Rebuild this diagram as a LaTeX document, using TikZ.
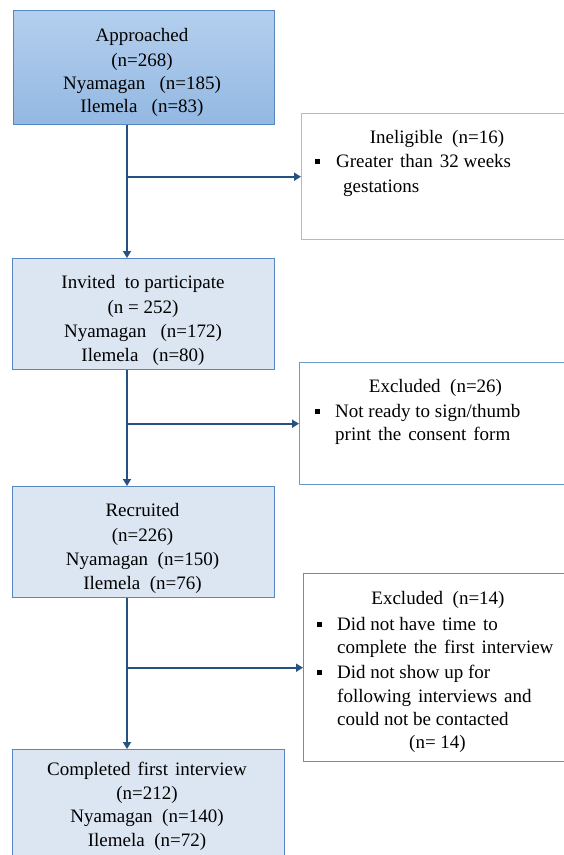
\documentclass[tikz,border=0pt]{standalone}
\usepackage{fontspec}
\setmainfont{Liberation Serif}
\usetikzlibrary{arrows.meta}
\definecolor{boxline}{HTML}{5886BE}
\definecolor{boxfill}{HTML}{DCE6F2}
\definecolor{topfillA}{HTML}{B4CFEE}
\definecolor{topfillB}{HTML}{93B8E2}
\definecolor{arrowc}{HTML}{26527F}
\definecolor{sideA}{HTML}{A8BED2}
\definecolor{sideB}{HTML}{6F9BC9}
\definecolor{sideC}{HTML}{5F90C6}
\newcommand{\wsp}{\hspace{7pt}}
\begin{document}
\begin{tikzpicture}[x=1pt,y=-1pt,
  lbox/.style={draw=boxline, line width=1.3pt, fill=boxfill, inner sep=0pt, anchor=north west},
  rbox/.style={line width=1.4pt, fill=white, inner sep=0pt, anchor=north west},
  txt/.style={font=\fontsize{19}{24}\selectfont, inner sep=0pt, anchor=base},
  ltxt/.style={txt, anchor=base west},
  bul/.style={fill=black, inner sep=0pt, minimum size=5pt},
  arr/.style={draw=arrowc, line width=1.9pt, -{Triangle[length=7pt,width=8pt]}}]
\useasboundingbox (0,0) rectangle (564,855);
\clip (0,0) rectangle (564,855);
\fill[white] (0,0) rectangle (564,855);

% left boxes
\node[lbox, top color=topfillA, bottom color=topfillB, minimum width=261pt, minimum height=114pt] (A) at (13,10) {};
\node[lbox, minimum width=262pt, minimum height=111pt] (B) at (12,258) {};
\node[lbox, minimum width=262pt, minimum height=111pt] (C) at (12,486) {};
\node[lbox, minimum width=272pt, minimum height=130pt] (D) at (12,749) {};

% right boxes
\node[rbox, draw=sideA, minimum width=280pt, minimum height=126pt] (I) at (301,113) {};
\node[rbox, draw=sideB, minimum width=280pt, minimum height=122pt] (E1) at (299,362) {};
\node[rbox, draw=sideC, minimum width=280pt, minimum height=188pt] (E2) at (303,573) {};

% trunk
\coordinate (tr) at (127,0);
\draw[arr] (tr |- A.south) -- (tr |- B.north);
\draw[arr] (tr |- B.south) -- (tr |- C.north);
\draw[arr] (tr |- C.south) -- (tr |- D.north);
\draw[arr] (tr |- I.west) -- (I.west);
\draw[arr] (tr |- E1.west) -- (E1.west);
\draw[arr] (tr |- E2.west) -- (E2.west);

% texts left
\node[txt] (a1) at (142,41) {Approached};
\node[txt] (a2) at (142,66) {(n=268)};
\node[txt] (a3) at (142,89) {Nyamagan\ \ \ (n=185)};
\node[txt] (a4) at (142,112) {Ilemela\ \ \ (n=83)};

\node[txt] (b1) at (143,288) {Invited\ \ to participate};
\node[txt] (b2) at (143,313) {(n = 252)};
\node[txt] (b3) at (143,337) {Nyamagan\ \ \ (n=172)};
\node[txt] (b4) at (143,361) {Ilemela\ \ \ (n=80)};

\node[txt] (c1) at (142.5,516) {Recruited};
\node[txt] (c2) at (142.5,541) {(n=226)};
\node[txt] (c3) at (142.5,565) {Nyamagan\ \ (n=150)};
\node[txt] (c4) at (142.5,589) {Ilemela\ \ (n=76)};

\node[txt] (d1) at (147,775) {Completed\wsp first\wsp interview};
\node[txt] (d2) at (147,799) {(n=212)};
\node[txt] (d3) at (147,822) {Nyamagan\ \ (n=140)};
\node[txt] (d4) at (147,846) {Ilemela\ \ (n=72)};

% texts right
\node[txt] (i1) at (437,143) {Ineligible\ \ (n=16)};
\node[bul] (ib1) at (317,161) {};
\node[ltxt] (i2) at (336,167) {Greater\wsp than\wsp 32 weeks};
\node[ltxt] (i3) at (343,192) {gestations};

\node[txt] (e1) at (435.5,392) {Excluded\ \ (n=26)};
\node[bul] (eb1) at (317,411) {};
\node[ltxt] (e2) at (335,417) {Not ready to sign/thumb};
\node[ltxt] (e3) at (335,440) {print\wsp the\wsp consent\wsp form};

\node[txt] (f1) at (438,604) {Excluded\ \ (n=14)};
\node[bul] (fb1) at (319,624) {};
\node[ltxt] (f2) at (337,630) {Did not have\wsp time\wsp to};
\node[ltxt] (f3) at (337,653) {complete\wsp the\wsp first\wsp interview};
\node[bul] (fb2) at (319,672) {};
\node[ltxt] (f4) at (337,678) {Did not show up for};
\node[ltxt] (f5) at (337,702) {following\wsp interviews\wsp and};
\node[ltxt] (f6) at (337,725) {could not be contacted};
\node[txt] (f7) at (437.5,748) {(n= 14)};
\end{tikzpicture}
\end{document}
